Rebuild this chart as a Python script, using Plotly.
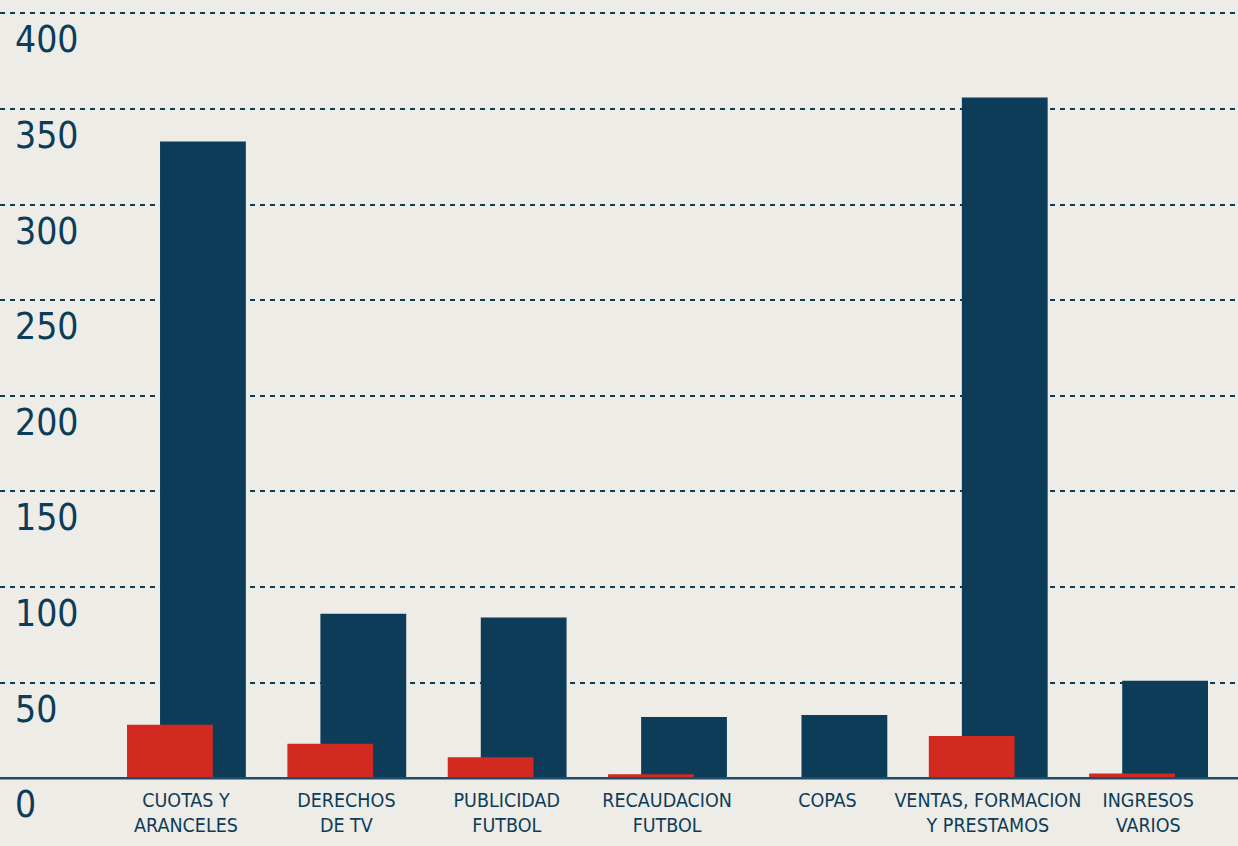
import plotly.graph_objects as go

categories = ["CUOTAS Y<br>ARANCELES", "DERECHOS<br>DE TV", "PUBLICIDAD<br>FUTBOL",
              "RECAUDACION<br>FUTBOL", "COPAS", "VENTAS, FORMACION<br>Y PRESTAMOS", "INGRESOS<br>VARIOS"]
navy_values = [333, 86, 84, 32, 33, 356, 51]
red_values = [28, 18, 11, 2, 0, 22, 2.5]
y_ticks = [0, 50, 100, 150, 200, 250, 300, 350, 400]

NAVY = "#0c3c58"
RED = "#d22a20"
BG = "#eeece7"
FONT = "DejaVu Sans Condensed, Liberation Sans Narrow, Roboto, sans-serif"

x_idx = list(range(len(categories)))

fig = go.Figure()
fig.add_trace(go.Bar(x=x_idx, y=navy_values, marker=dict(color=NAVY, line=dict(width=0)),
                     width=0.535, offset=-0.162, showlegend=False, hoverinfo="y"))
fig.add_trace(go.Bar(x=x_idx, y=red_values, marker=dict(color=RED, line=dict(width=0)),
                     width=0.535, offset=-0.368, showlegend=False, hoverinfo="y"))

for v in y_ticks:
    fig.add_annotation(x=0.0105, xref="paper", y=v, yref="y", text=str(v), showarrow=False,
                       xanchor="left", yanchor="top", yshift=-3,
                       font=dict(family=FONT, size=37, color=NAVY))

fig.add_shape(type="line", xref="paper", yref="y", x0=0, x1=1, y0=0, y1=0,
              line=dict(color="#1d4d69", width=2.5))

fig.update_layout(
    width=1238, height=846,
    barmode="overlay",
    paper_bgcolor=BG, plot_bgcolor=BG,
    margin=dict(l=0, r=0, t=0, b=64, autoexpand=False),
    xaxis=dict(range=[-1.16, 6.56], tickmode="array", tickvals=x_idx, ticktext=categories,
               showgrid=False, zeroline=False, showline=False, ticks="", tickangle=0,
               automargin=False, ticklabelstandoff=4,
               tickfont=dict(family=FONT, size=19.5, color=NAVY)),
    yaxis=dict(range=[-2, 407], tickvals=y_ticks[1:], showticklabels=False,
               showgrid=True, gridcolor=NAVY, griddash="5px,5px", gridwidth=1.5,
               zeroline=False, showline=False, ticks="", automargin=False),
)

fig.write_html("out.html", config={"displayModeBar": False},
               post_script="document.body.style.margin='0';document.body.style.background='" + BG + "';")
